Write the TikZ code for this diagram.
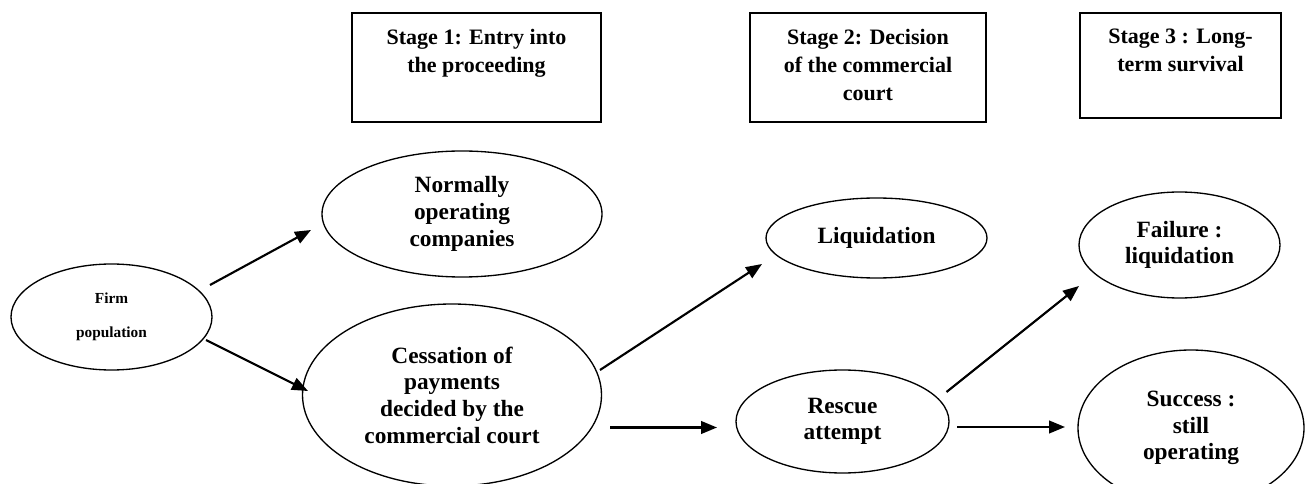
\documentclass[tikz,border=0pt]{standalone}
\usepackage{fontspec}
\setmainfont{Liberation Serif}
\usetikzlibrary{arrows.meta,shapes.geometric}
\begin{document}
\begin{tikzpicture}[x=0.75pt,y=-0.75pt,
  stagebox/.style={draw, line width=1.2pt, inner sep=0pt},
  stagetext/.style={font=\bfseries\fontsize{16.5}{21}\selectfont, align=center, inner sep=0pt, anchor=north},
  oval/.style={draw, ellipse, line width=1pt, inner sep=0pt, align=center, font=\bfseries\fontsize{17.5}{20}\selectfont},
  arr/.style={line width=1.6pt, -{Triangle[length=12pt,width=9.5pt]}}]
\useasboundingbox (0,0) rectangle (1313,484);
\clip (0,0) rectangle (1313,484);

% stage boxes
\node[stagebox, minimum width=186.75pt, minimum height=81.75pt] (b1) at (476.5,67.5) {};
\node[stagebox, minimum width=177pt, minimum height=81.75pt] (b2) at (868,67.5) {};
\node[stagebox, minimum width=150.75pt, minimum height=78.75pt] (b3) at (1180.5,65.5) {};
\node[stagetext] (t1) at (476.5,29) {Stage 1: Entry into\\the proceeding};
\node[stagetext] (t2) at (868,29) {Stage 2: Decision\\of the commercial\\court};
\node[stagetext] (t3) at (1180.5,29) {Stage 3 : Long-\\term survival};

% ellipses
\node[oval, minimum width=150.75pt, minimum height=79.5pt, font=\bfseries\fontsize{11.5}{25.5}\selectfont] (firm) at (111.5,317) {Firm\\population};
\node[oval, minimum width=210pt, minimum height=94.5pt] (norm) at (462,214) {Normally\\operating\\companies};
\node[oval, minimum width=224.25pt, minimum height=136.5pt] (cess) at (452,395) {Cessation of\\payments\\decided by the\\commercial court};
\node[oval, minimum width=165.75pt, minimum height=60pt] (liq) at (876.5,238) {Liquidation};
\node[oval, minimum width=150.75pt, minimum height=79.5pt] (fail) at (1179.5,245) {Failure :\\liquidation};
\node[oval, minimum width=159.75pt, minimum height=77.25pt] (resc) at (842.5,421.5) {Rescue\\attempt};
\node[oval, minimum width=169.5pt, minimum height=117pt] (succ) at (1191,428) {Success :\\still\\operating};

% arrow end points
\coordinate (a1s) at (210,285);
\coordinate (a1e) at (311,230);
\coordinate (a2s) at (206,340);
\coordinate (a2e) at (308,391);
\coordinate (a3s) at (600,370);
\coordinate (a3e) at (762,264);
\coordinate (a4s) at (610,427.5);
\coordinate (a4e) at (717,427.5);
\coordinate (a5s) at (946.5,392);
\coordinate (a5e) at (1079,286);
\coordinate (a6s) at (957,427);
\coordinate (a6e) at (1065,427);

\draw[arr] (a1s) -- (a1e);
\draw[arr] (a2s) -- (a2e);
\draw[arr] (a3s) -- (a3e);
\draw[arr] (a4s) -- (a4e);
\draw[arr] (a5s) -- (a5e);
\draw[arr] (a6s) -- (a6e);
\end{tikzpicture}
\end{document}
